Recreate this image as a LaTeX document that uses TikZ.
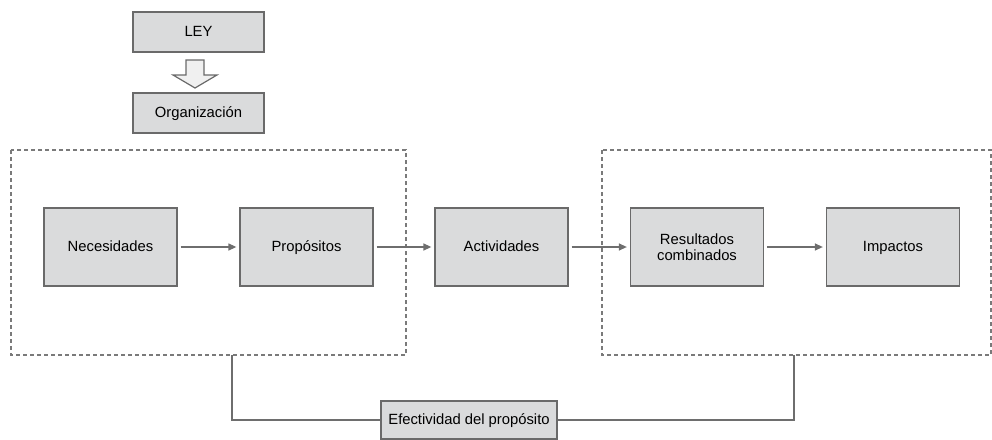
\documentclass[tikz,border=0pt]{standalone}
\usepackage{fontspec}
\setmainfont{Liberation Sans}
\usetikzlibrary{arrows.meta}
\definecolor{boxfill}{HTML}{DADBDC}
\definecolor{boxline}{HTML}{6A6A6A}
\definecolor{linegray}{HTML}{6E6E6E}
\definecolor{dashgray}{HTML}{7A7A7A}
\tikzset{
  stepbase/.style={draw=boxline, line width=1.3pt, fill=boxfill, inner sep=0pt,
    minimum width=133pt, minimum height=78pt, align=center,
    font=\fontsize{14.8}{16.5}\selectfont},
  stepbox/.style={stepbase, text height=10.6pt, text depth=1.2pt},
  smallbox/.style={stepbox, minimum width=131pt, minimum height=40pt},
  flow/.style={draw=linegray, line width=1.3pt,
    -{Triangle[length=8pt,width=7pt]}, shorten <=3pt, shorten >=3pt},
  link/.style={draw=linegray, line width=1.3pt},
  groupbox/.style={draw=dashgray, line width=1.2pt, dash pattern=on 4pt off 3pt},
}
\begin{document}
\begin{tikzpicture}[x=1pt,y=-1pt]
  \useasboundingbox (0,0) rectangle (992,439);

  % law and organisation
  \node[smallbox] (ley) at (198.5,32) {LEY};
  \node[smallbox] (org) at (198.5,113) {Organización};
  \draw[draw=boxline, line width=1.2pt, fill=gray!12]
    (186,60) -- (204,60) -- (204,75) -- (217,75) -- (195,88) -- (173,75) -- (186,75) -- cycle;

  % dashed groups
  \coordinate (g1nw) at (11,150);
  \coordinate (g1se) at (406,355);
  \coordinate (g2nw) at (602,150);
  \coordinate (g2se) at (991,355);
  \draw[groupbox] (g1nw) rectangle (g1se);
  \draw[groupbox] (g2nw) rectangle (g2se);

  % main chain
  \node[stepbox] (nec) at (110.5,247) {Necesidades};
  \node[stepbox] (pro) at (306.5,247) {Propósitos};
  \node[stepbox] (act) at (501.5,247) {Actividades};
  \node[stepbase] (res) at (697,247) {Resultados\\combinados};
  \node[stepbox] (imp) at (893,247) {Impactos};

  \draw[flow] (nec) -- (pro);
  \draw[flow] (pro) -- (act);
  \draw[flow] (act) -- (res);
  \draw[flow] (res) -- (imp);

  % effectiveness
  \node[stepbox, minimum width=176pt, minimum height=38pt] (efe) at (469,420) {Efectividad del propósito};
  \coordinate (b1) at (232,355);
  \coordinate (b2) at (794,355);
  \draw[link] (b1) |- (efe.west);
  \draw[link] (b2) |- (efe.east);
\end{tikzpicture}
\end{document}
